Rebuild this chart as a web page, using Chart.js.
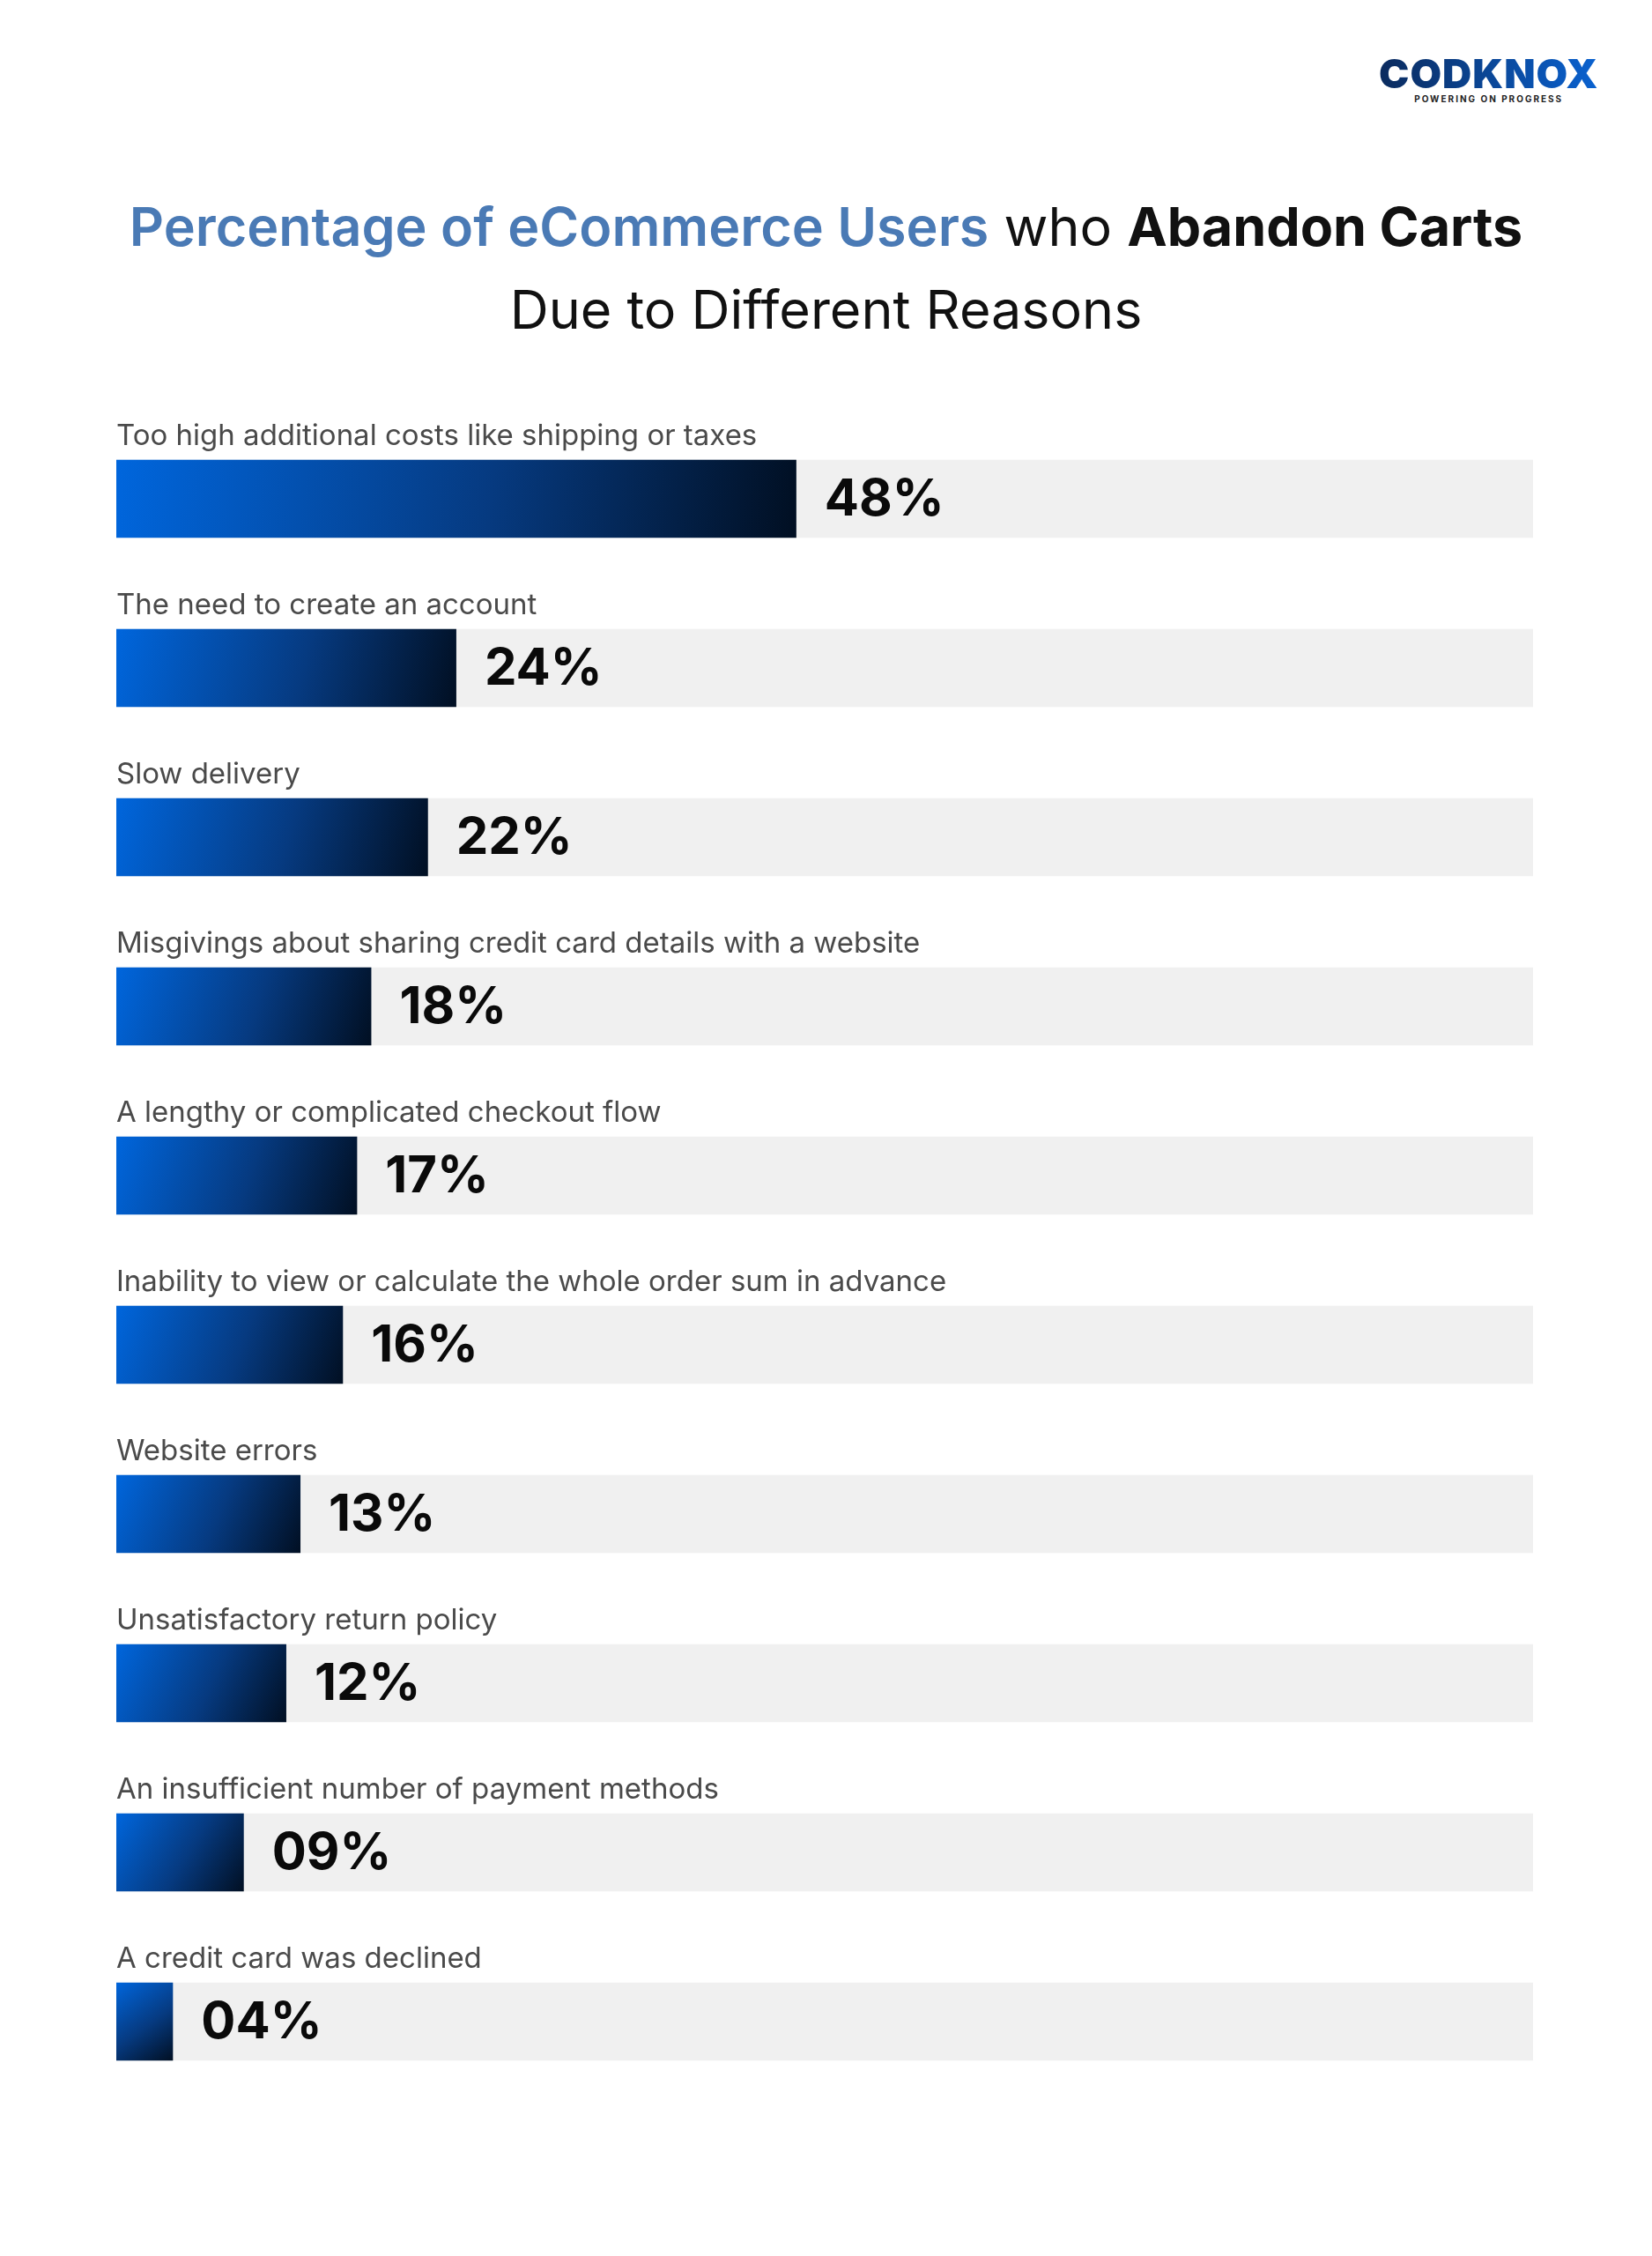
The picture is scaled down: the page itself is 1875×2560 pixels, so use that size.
<!DOCTYPE html>
<html><head><meta charset="utf-8">
<script src="https://cdn.jsdelivr.net/npm/chart.js@4"></script>
<style>
body{margin:0;width:1875px;height:2560px;background:#fff;font-family:Inter,"Open Sans",sans-serif;position:relative;overflow:hidden}
#logo{position:absolute;top:60px;left:1565px;text-align:center}
#logo .m{font-size:46px;font-weight:900;letter-spacing:1px;background:linear-gradient(90deg,#0b2b5e,#0a62d0);-webkit-background-clip:text;color:transparent;line-height:46px}
#logo .s{font-size:10px;font-weight:700;letter-spacing:2px;color:#222}
#title{position:absolute;top:210px;left:0;width:1875px;text-align:center;font-size:61px;line-height:94px;color:#111}
#title .b{color:#4a7ab5;font-weight:600}
#title .k{font-weight:700}
#wrap{position:absolute;left:0;top:470px;width:1875px;height:1920px}
</style></head><body>
<div id="logo"><div class="m">CODKNOX</div><div class="s">POWERING ON PROGRESS</div></div>
<div id="title"><span class="b">Percentage of eCommerce Users</span> who <span class="k">Abandon Carts</span><br>Due to Different Reasons</div>
<div id="wrap"><canvas id="c"></canvas></div>
<script>
const categories=["Too high additional costs like shipping or taxes","The need to create an account","Slow delivery","Misgivings about sharing credit card details with a website","A lengthy or complicated checkout flow","Inability to view or calculate the whole order sum in advance","Website errors","Unsatisfactory return policy","An insufficient number of payment methods","A credit card was declined"];
const values=[48,24,22,18,17,16,13,12,9,4];
const valueLabels=["48%","24%","22%","18%","17%","16%","13%","12%","09%","04%"];
const track=categories.map(()=>100);

function grad(ctx){
  const ch=ctx.chart,i=ctx.dataIndex;
  if(!ch.scales.x||!ch.chartArea)return '#0a4fb0';
  const x0=ch.scales.x.getPixelForValue(0),x1=ch.scales.x.getPixelForValue(values[i]);
  const yc=ch.scales.y.getPixelForValue(i);
  if(![x0,x1,yc].every(isFinite))return '#0a4fb0';
  const g=ch.ctx.createLinearGradient(x0,yc-45,x1,yc+45);
  g.addColorStop(0,'#0066dd');g.addColorStop(0.55,'#063a80');g.addColorStop(1,'#010f22');
  return g;
}
const labelsPlugin={id:'lbl',afterDatasetsDraw(ch){
  const c=ch.ctx,meta=ch.getDatasetMeta(1);
  meta.data.forEach((b,i)=>{
    const top=b.y-b.height/2;
    c.save();
    c.font='33px Inter, "Open Sans", sans-serif';c.fillStyle='#4a4a4a';
    c.textBaseline='bottom';c.textAlign='left';
    c.fillText(categories[i],b.base,top-10);
    c.font='bold 58px Inter, "Open Sans", sans-serif';c.fillStyle='#0a0a0a';
    c.textBaseline='middle';
    c.fillText(valueLabels[i],b.x+32,b.y+2);
    c.restore();
  });
}};
new Chart(document.getElementById('c'),{
  type:'bar',
  data:{labels:categories,datasets:[
    {data:track,backgroundColor:'#f0f0f0',grouped:false,order:2,categoryPercentage:0.46,barPercentage:1},
    {data:values,backgroundColor:grad,grouped:false,order:1,categoryPercentage:0.46,barPercentage:1}
  ]},
  options:{indexAxis:'y',responsive:true,maintainAspectRatio:false,animation:false,
    layout:{padding:{left:132,right:135,top:0,bottom:0}},
    plugins:{legend:{display:false},tooltip:{enabled:false}},
    scales:{x:{display:false,min:0,max:100},y:{display:false}}},
  plugins:[labelsPlugin]
});
</script>
</body></html>
